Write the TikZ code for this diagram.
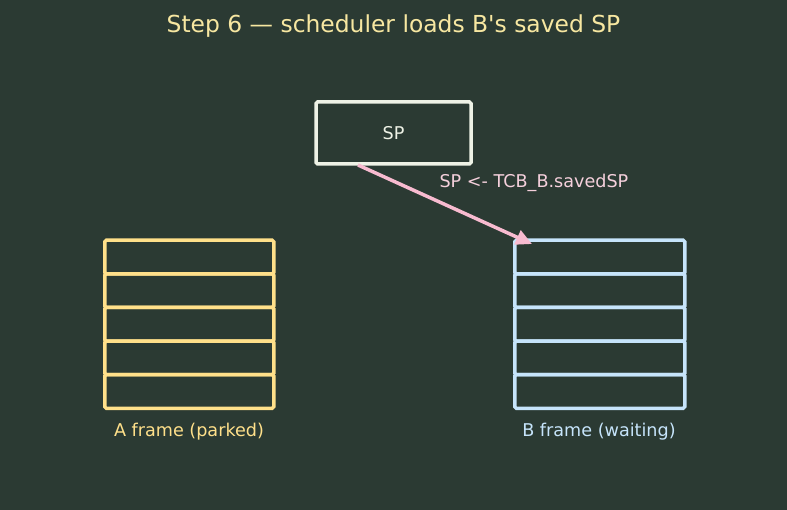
\documentclass[tikz,border=0pt]{standalone}
\usepackage{fontspec}
\setmainfont{DejaVu Sans}
\usetikzlibrary{arrows.meta}
\definecolor{bg}{HTML}{2B3A33}
\definecolor{titlec}{HTML}{F7E7A1}
\definecolor{spc}{HTML}{EEF2E6}
\definecolor{ac}{HTML}{FFE08A}
\definecolor{bc}{HTML}{C6E4FB}
\definecolor{pinkc}{HTML}{F8BBD0}
\definecolor{pinkt}{HTML}{F5D0DC}
\begin{document}
\begin{tikzpicture}[x=1pt,y=-1pt,
  cellA/.style={draw=ac,line width=3.5pt,rounded corners=1.5pt,minimum width=169pt,minimum height=33.6pt,inner sep=0pt,anchor=north west},
  cellB/.style={draw=bc,line width=3.5pt,rounded corners=1.5pt,minimum width=170pt,minimum height=33.6pt,inner sep=0pt,anchor=north west},
  lbl/.style={font=\fontsize{17.6}{21}\selectfont}]
\fill[bg] (0,0) rectangle (787,510);
\useasboundingbox (0,0) rectangle (787,510);
\node[text=titlec,font=\fontsize{23.4}{28}\selectfont] (title) at (393.5,26) {Step 6 — scheduler loads B\textquotesingle s saved SP};
\node[draw=spc,line width=3.5pt,rounded corners=1.5pt,minimum width=155pt,minimum height=62pt,inner sep=0pt,text=spc,lbl] (sp) at (393.5,133) {SP};
\foreach \i in {0,...,4}{
  \node[cellA] (a\i) at (103,238.5+33.6*\i) {};
  \node[cellB] (b\i) at (513,238.5+33.6*\i) {};
}
\node[lbl,text=ac] (alab) at (189,432) {A frame (parked)};
\node[lbl,text=bc] (blab) at (599,432) {B frame (waiting)};
\coordinate (s) at (358,165);
\coordinate (t) at (532,244);
\draw[pinkc,line width=3.5pt,-{Triangle[length=16pt,width=15pt]}] (s) -- (t);
\node[lbl,text=pinkt,anchor=west] (albl) at (436,183) {SP <- TCB\_B.savedSP};
\end{tikzpicture}
\end{document}
